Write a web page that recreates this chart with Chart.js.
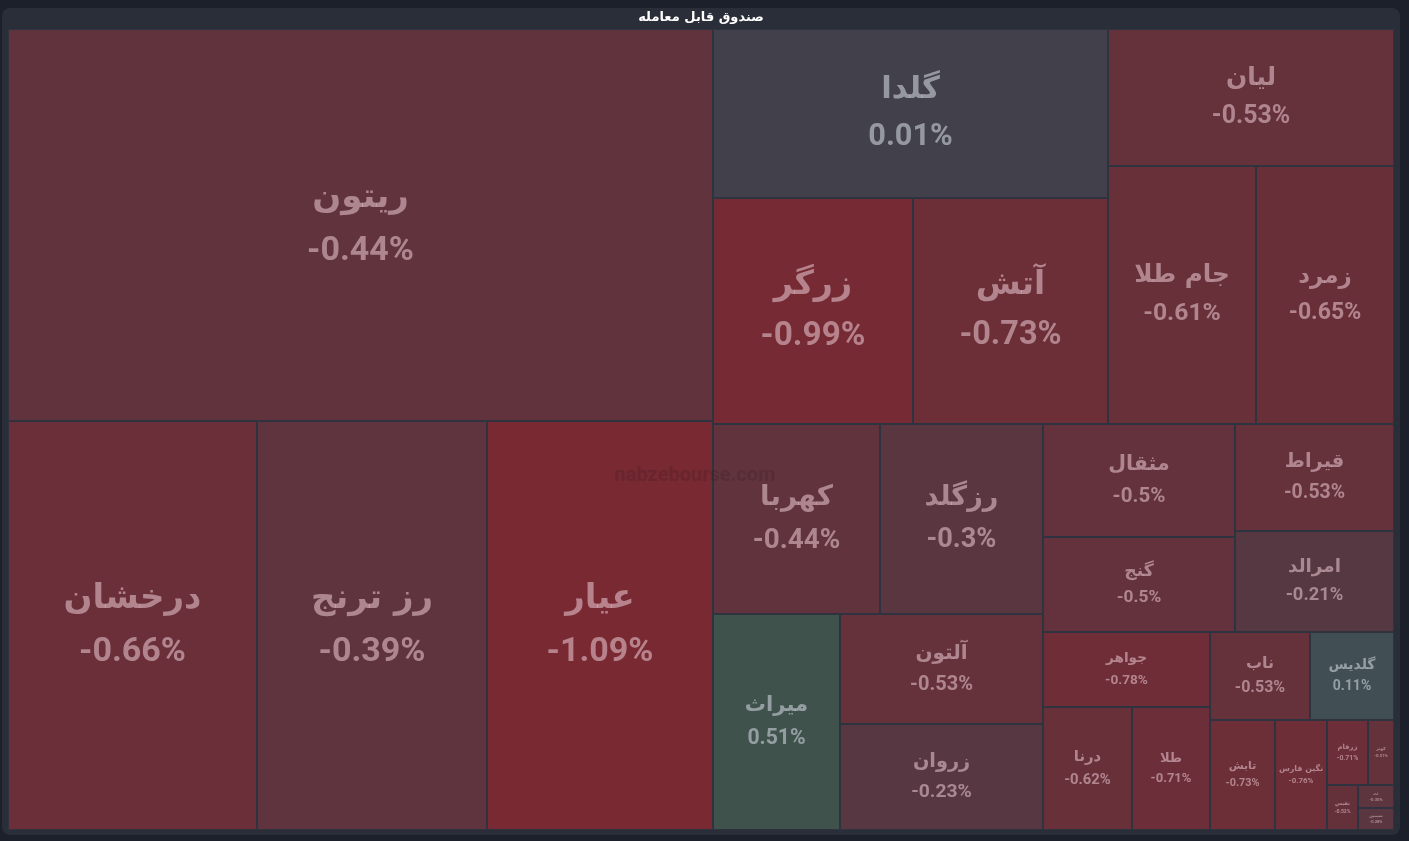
<!DOCTYPE html>
<html><head><meta charset="utf-8">
<script src="https://cdn.jsdelivr.net/npm/chart.js@4.4.1/dist/chart.umd.min.js"></script>
<style>html,body{margin:0;padding:0;background:#1c202b;overflow:hidden}#wrap{width:1409px;height:841px}</style>
</head><body><div id="wrap"><canvas id="c"></canvas></div>
<script>
const title = 'صندوق قابل معامله';
const names = ['ریتون','درخشان','رز ترنج','عیار','گلدا','زرگر','آتش','لیان','جام طلا','زمرد','کهربا','رزگلد','میراث','آلتون','زروان','مثقال','گنج','قیراط','امرالد','جواهر','درنا','طلا','ناب','گلدیس','تابش','نگین فارس','زرفام','کوثر','نفیس','زر','سیمین'];
const sizes = [276360,101841,94070,92434,66755,45200,44070,39182,38184,35604,31730,30970,27432,22330,21518,21696,18240,17013,16059,12525,10947,9594,8800,7392,7150,5720,2665,1690,1395,828,792];
const changes = [-0.44,-0.66,-0.39,-1.09,0.01,-0.99,-0.73,-0.53,-0.61,-0.65,-0.44,-0.3,0.51,-0.53,-0.23,-0.5,-0.5,-0.53,-0.21,-0.78,-0.62,-0.71,-0.53,0.11,-0.73,-0.76,-0.71,-0.51,-0.52,-0.35,-0.28];
// nesting of cells (indices into the arrays above) with split direction
const nesting = ['h',
  ['v',0,['h',1,2,3]],
  ['v',
    ['h',['v',4,['h',5,6]],['v',7,['h',8,9]]],
    ['h',
      ['v',['h',10,11],['h',12,['v',13,14]]],
      ['v',['h',['v',15,16],['v',17,18]],
           ['h',['v',19,['h',20,21]],['v',['h',22,23],['h',24,25,['v',['h',26,27],['h',28,['v',29,30]]]]]]]]]];

const total = sizes.reduce((a,b)=>a+b,0);
const W = 1386, H = total/1386;
function nsum(n){return typeof n==='number'?sizes[n]:n.slice(1).reduce((a,c)=>a+nsum(c),0);}
const cells=[];
function lay(n,x,y,w,h){
  if(typeof n==='number'){cells.push({i:n,x,y,w,h});return;}
  const s=nsum(n);let off=0;
  for(const c of n.slice(1)){const f=nsum(c)/s;
    if(n[0]==='h'){lay(c,x+off,y,w*f,h);off+=w*f;}else{lay(c,x,y+off,w,h*f);off+=h*f;}}
}
lay(nesting,0,0,W,H);

function colorFor(p){
  if(p>0.05){const t=Math.min(1,p/0.6);return `rgb(${Math.round(66-4*t)},${Math.round(77+6*t)},${Math.round(85-12*t)})`;}
  const t=Math.pow(Math.min(1,Math.abs(p)/1.1),0.55);
  return `rgb(${Math.round(62+58*t)},${Math.round(66-25*t)},${Math.round(77-27*t)})`;
}
const treemapPlugin={id:'tm',
  beforeDraw(chart){const ctx=chart.ctx;const a=chart.chartArea;
    ctx.save();ctx.fillStyle='#2a2e39';
    ctx.beginPath();ctx.roundRect(a.left-6,8,a.right-a.left+12,a.bottom-8+5,8);ctx.fill();
    ctx.fillStyle='#ffffff';ctx.font='bold 13px "DejaVu Sans", sans-serif';ctx.textAlign='center';ctx.textBaseline='middle';
    ctx.direction='rtl';ctx.fillText(title,(a.left+a.right)/2,18);
    ctx.fillStyle='#2f3340';ctx.fillRect(a.left,a.top,a.right-a.left,a.bottom-a.top);ctx.restore();},
  afterDatasetsDraw(chart){const ctx=chart.ctx;const xs=chart.scales.x,ys=chart.scales.y;
    ctx.save();
    for(const c of cells){
      const x0=xs.getPixelForValue(c.x),x1=xs.getPixelForValue(c.x+c.w);
      const y0=ys.getPixelForValue(c.y),y1=ys.getPixelForValue(c.y+c.h);
      const w=x1-x0,h=y1-y0;
      ctx.fillStyle=colorFor(changes[c.i]);ctx.fillRect(x0+1,y0+1,w-2,h-2);
      let fs=Math.min(34,w/6,h/5.5);
      ctx.font=`bold ${fs}px "DejaVu Sans", sans-serif`;
      const tw=ctx.measureText(names[c.i]).width;
      if(tw>w*0.85) fs=fs*w*0.85/tw;
      const cx=x0+w/2,cy=y0+h/2;
      const grey=Math.abs(changes[c.i])<0.05||changes[c.i]>0;
      ctx.fillStyle=grey?'rgba(205,210,220,0.6)':'rgba(225,190,200,0.6)';
      ctx.textAlign='center';ctx.textBaseline='middle';
      ctx.font=`bold ${fs}px "DejaVu Sans", sans-serif`;ctx.direction='rtl';
      ctx.fillText(names[c.i],cx,cy-fs*0.78);
      ctx.direction='ltr';ctx.font=`bold ${fs}px Roboto, sans-serif`;
      ctx.fillText(changes[c.i]+'%',cx,cy+fs*0.78);
    }
    ctx.fillStyle='rgba(40,20,25,0.18)';ctx.font='bold 20px Roboto, sans-serif';ctx.textAlign='center';
    ctx.fillText('nabzebourse.com',695,476);
    ctx.restore();}
};
new Chart(document.getElementById('c'),{type:'scatter',
  data:{datasets:[{data:[],pointRadius:0}]},
  options:{responsive:true,maintainAspectRatio:false,animation:false,
    layout:{padding:{left:8,right:15,top:29,bottom:11}},
    plugins:{legend:{display:false},tooltip:{enabled:false}},
    scales:{x:{type:'linear',min:0,max:W,display:false},y:{type:'linear',min:0,max:H,reverse:true,display:false}}},
  plugins:[treemapPlugin]});
</script></body></html>
